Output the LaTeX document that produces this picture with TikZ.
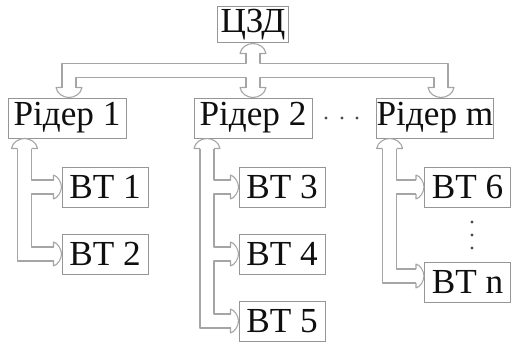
\documentclass[tikz,border=0pt]{standalone}
\usepackage{fontspec}
\setmainfont{Liberation Serif}
\usetikzlibrary{calc}
\definecolor{ln}{RGB}{165,165,165}
\definecolor{bx}{RGB}{150,150,150}
\definecolor{txt}{RGB}{15,15,15}
\tikzset{
 box/.style={draw=bx, line width=0.5pt, inner sep=0pt, text=txt, font=\fontsize{17.6}{20}\selectfont},
 btbox/.style={box, minimum width=43pt, minimum height=20pt},
 rdbox/.style={box, minimum width=59pt, minimum height=20pt},
 tube/.style={draw=ln, line width=0.55pt, line join=round},
 dotm/.style={fill=txt!75, draw=none}
}
% arrow heads (tip at #1)
\newcommand\hdown[1]{\draw[tube] ($(#1)+(-7,-10)$) -- ($(#1)+(-13,-10)$) .. controls ($(#1)+(-12,-4)$) and ($(#1)+(-6,0)$) .. (#1) .. controls ($(#1)+(6,0)$) and ($(#1)+(12,-4)$) .. ($(#1)+(13,-10)$) -- ($(#1)+(7,-10)$);}
\newcommand\hup[1]{\draw[tube] ($(#1)+(-7,10)$) -- ($(#1)+(-13,10)$) .. controls ($(#1)+(-12,4)$) and ($(#1)+(-6,0)$) .. (#1) .. controls ($(#1)+(6,0)$) and ($(#1)+(12,4)$) .. ($(#1)+(13,10)$) -- ($(#1)+(7,10)$);}
\newcommand\hright[1]{\draw[tube] ($(#1)+(-8,-7)$) -- ($(#1)+(-8,-12)$) .. controls ($(#1)+(-4,-11)$) and ($(#1)+(0,-5)$) .. (#1) .. controls ($(#1)+(0,5)$) and ($(#1)+(-4,11)$) .. ($(#1)+(-8,12)$) -- ($(#1)+(-8,7)$);}
\begin{document}
\begin{tikzpicture}[x=0.5pt,y=-0.5pt]
\useasboundingbox (0,0) rectangle (512,342);
% nodes
\node[box, minimum width=35.5pt, minimum height=18pt] (z) at (253,25) {ЦЗД};
\node[rdbox] (r1) at (67,118) {Рідер 1};
\node[rdbox] (r2) at (253,118) {Рідер 2};
\node[rdbox, minimum width=57pt] (rm) at (435,118) {Рідер m};
\node[btbox] (b1) at (105,187) {BT 1};
\node[btbox] (b2) at (105,254) {BT 2};
\node[btbox] (b3) at (282,187) {BT 3};
\node[btbox] (b4) at (282,254) {BT 4};
\node[btbox] (b5) at (282,321) {BT 5};
\node[btbox] (b6) at (467.5,187) {BT 6};
\node[btbox] (bn) at (467.5,282) {BT n};
% dots
\foreach \x in {326,342,357} \fill[dotm] (\x,118) circle[radius=1.6];
\foreach \y in {222,235,248} \fill[dotm] (472,\y) circle[radius=1.6];
% top bus
\coordinate (tL) at ($(r1.north)+(2,0)$);
\coordinate (tC) at (r2.north);
\coordinate (tR) at ($(rm.north)+(6,0)$);
\hup{z.south}
\hdown{tL}
\hdown{tC}
\hdown{tR}
\draw[tube] ($(z.south)+(-7,10)$) |- ($(tL)+(-7,-34)$) -- ($(tL)+(-7,-10)$);
\draw[tube] ($(z.south)+(7,10)$) |- ($(tR)+(7,-34)$) -- ($(tR)+(7,-10)$);
\draw[tube] ($(tL)+(7,-10)$) |- ($(tC)+(-7,-20)$) -- ($(tC)+(-7,-10)$);
\draw[tube] ($(tC)+(7,-10)$) |- ($(tR)+(-7,-20)$) -- ($(tR)+(-7,-10)$);
% reader 1 tube
\coordinate (a1) at ($(r1.south west)+(17,0)$);
\coordinate (i1) at ($(a1)+(7,0)$);
\hup{a1}
\hright{b1.west}
\hright{b2.west}
\draw[tube] ($(a1)+(-7,10)$) |- ($(b2.west)+(-8,7)$);
\draw[tube] ($(a1)+(7,10)$) |- ($(b1.west)+(-8,-7)$);
\draw[tube] ($(b1.west)+(-8,7)$) -| ($(i1 |- b2.west)+(0,-7)$) -- ($(b2.west)+(-8,-7)$);
% reader 2 tube
\coordinate (a2) at ($(r2.south west)+(13.5,0)$);
\coordinate (i2) at ($(a2)+(7,0)$);
\hup{a2}
\hright{b3.west}
\hright{b4.west}
\hright{b5.west}
\draw[tube] ($(a2)+(-7,10)$) |- ($(b5.west)+(-8,7)$);
\draw[tube] ($(a2)+(7,10)$) |- ($(b3.west)+(-8,-7)$);
\draw[tube] ($(b3.west)+(-8,7)$) -| ($(i2 |- b4.west)+(0,-7)$) -- ($(b4.west)+(-8,-7)$);
\draw[tube] ($(b4.west)+(-8,7)$) -| ($(i2 |- b5.west)+(0,-7)$) -- ($(b5.west)+(-8,-7)$);
% reader m tube
\coordinate (am) at ($(rm.south west)+(13.5,0)$);
\coordinate (im) at ($(am)+(7,0)$);
\coordinate (bnw) at ($(bn.west)+(0,-6)$);
\hup{am}
\hright{b6.west}
\hright{bnw}
\draw[tube] ($(am)+(-7,10)$) |- ($(bnw)+(-8,7)$);
\draw[tube] ($(am)+(7,10)$) |- ($(b6.west)+(-8,-7)$);
\draw[tube] ($(b6.west)+(-8,7)$) -| ($(im |- bnw)+(0,-7)$) -- ($(bnw)+(-8,-7)$);
\end{tikzpicture}
\end{document}
